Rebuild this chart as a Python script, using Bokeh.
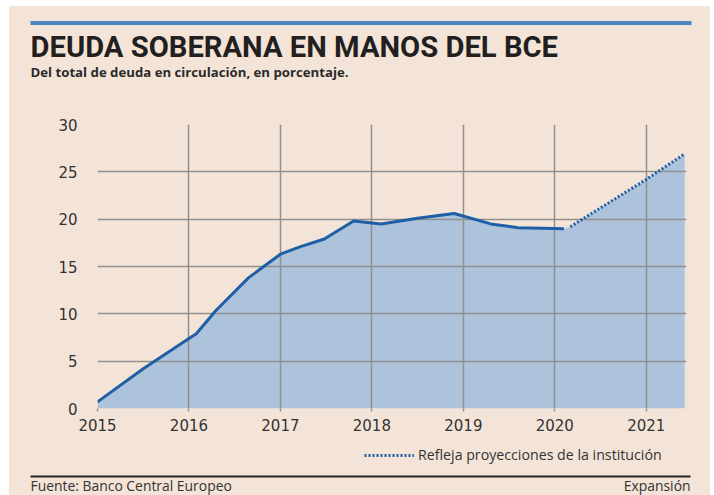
from bokeh.plotting import figure
from bokeh.models import (Legend, LegendItem, FixedTicker, Range1d, ColumnDataSource, Spacer)
from bokeh.layouts import column, row
from bokeh.core.properties import value
from bokeh.embed import file_html
from bokeh.resources import INLINE

# ---------------- data ----------------
years = [2015.0, 2015.5, 2016.0, 2016.08, 2016.3, 2016.65, 2017.0, 2017.22,
         2017.48, 2017.8, 2018.1, 2018.5, 2018.9, 2019.3, 2019.6, 2020.1]
values = [0.7, 4.2, 7.4, 7.9, 10.4, 13.8, 16.3, 17.1,
          17.9, 19.8, 19.5, 20.1, 20.6, 19.5, 19.1, 19.0]
proj_years = [2020.17, 2021.0, 2021.42]
proj_values = [19.2, 24.2, 26.9]
x_ticks = [2015, 2016, 2017, 2018, 2019, 2020, 2021]
x_tick_labels = ["2015", "2016", "2017", "2018", "2019", "2020", "2021"]
y_ticks = [0, 5, 10, 15, 20, 25, 30]

title_text = "DEUDA SOBERANA EN MANOS DEL BCE"
subtitle_text = "Del total de deuda en circulación, en porcentaje."
legend_text = "Refleja proyecciones de la institución"
source_text = "Fuente: Banco Central Europeo"
brand_text = "Expansión"

# ---------------- style ----------------
BG = "#f4e4d8"
AREA = "#adc3db"
LINE = "#1e5fa5"
RULE = "#4a86c2"
GRID = "#8f8f8f"
TXT = "#333333"
TITLE_FONT = "Roboto"
SMALL_FONT = "Open Sans"

LEFT, TOP, RIGHT = 9, 6, 710         # page extent of the peach panel
W = RIGHT - LEFT
HEAD_BOTTOM, MAIN_BOTTOM, FOOT_BOTTOM = 112, 440, 495


def panel(y0, y1):
    f = figure(width=W, height=y1 - y0, x_range=Range1d(LEFT, RIGHT),
               y_range=Range1d(y1, y0), min_border=0, frame_align=False,
               output_backend="svg", toolbar_location=None)
    f.axis.visible = False
    f.grid.visible = False
    f.background_fill_color = BG
    f.border_fill_color = BG
    f.outline_line_color = None
    return f

# ---------------- header ----------------
head = panel(TOP, HEAD_BOTTOM)
head.quad(left=[30], right=[691], top=[20.5], bottom=[24.5], fill_color=RULE, line_color=None)
head.text(x=[30], y=[46], text=[title_text], text_font=value(TITLE_FONT),
          text_font_style="bold", text_font_size="29.2px", text_color="#231f20",
          text_baseline="alphabetic")
head.text(x=[30], y=[71.3], text=[subtitle_text], text_font=value(SMALL_FONT),
          text_font_style="bold", text_font_size="13.2px", text_color="#2a2a2a",
          text_baseline="alphabetic")

# ---------------- main chart ----------------
FRAME_L, FRAME_R, FRAME_T, FRAME_B = 97, 686, 124, 408
p = figure(frame_width=FRAME_R - FRAME_L, frame_height=FRAME_B - FRAME_T,
           min_border_left=FRAME_L - LEFT, min_border_right=RIGHT - FRAME_R,
           min_border_top=FRAME_T - HEAD_BOTTOM, min_border_bottom=MAIN_BOTTOM - FRAME_B,
           x_range=Range1d(2015, 2021.44), y_range=Range1d(0, 30), frame_align=False,
           output_backend="svg", toolbar_location=None)
p.background_fill_color = BG
p.border_fill_color = BG
p.outline_line_color = None

area_src = ColumnDataSource(dict(x=years + proj_years, y=values + proj_values))
p.varea(x="x", y1=0, y2="y", source=area_src, fill_color=AREA, level="image")
p.line(years, values, line_color=LINE, line_width=3)
p.line(proj_years, proj_values, line_color=LINE, line_width=3, line_dash="2 2")

for g in (p.xgrid, p.ygrid):
    g.grid_line_color = GRID
    g.grid_line_width = 1.5
p.xaxis.ticker = FixedTicker(ticks=x_ticks)
p.yaxis.ticker = FixedTicker(ticks=y_ticks)
p.xaxis.major_label_overrides = {t: l for t, l in zip(x_ticks, x_tick_labels)}

for ax in (p.xaxis, p.yaxis):
    ax.axis_line_color = None
    ax.minor_tick_line_color = None
    ax.major_label_text_font = "DejaVu Sans"
    ax.major_label_text_font_size = "15px"
    ax.major_label_text_color = TXT
p.yaxis.major_tick_line_color = None
p.yaxis.major_tick_out = 0
p.yaxis.major_tick_in = 0
p.yaxis.major_label_standoff = 20
p.xaxis.major_tick_line_color = GRID
p.xaxis.major_tick_line_width = 1.5
p.xaxis.major_tick_out = 3
p.xaxis.major_tick_in = 0
p.xaxis.major_label_standoff = 7

# ---------------- footer ----------------
foot = panel(MAIN_BOTTOM, FOOT_BOTTOM)
foot.quad(left=[30], right=[690], top=[475], bottom=[477], fill_color="#222222", line_color=None)
foot.text(x=[30], y=[484.5], text=[source_text], text_font=value(SMALL_FONT),
          text_font_size="13.9px", text_color=TXT, text_baseline="alphabetic")
foot.text(x=[690], y=[484.5], text=[brand_text], text_font=value(SMALL_FONT),
          text_font_size="13.9px", text_color=TXT, text_align="right",
          text_baseline="alphabetic")
# legend key proxy: a one-point line draws nothing itself, only its legend sample
key = foot.line(x=[LEFT], y=[FOOT_BOTTOM], line_color=LINE, line_width=3, line_dash="2 2")
legend = Legend(items=[LegendItem(label=legend_text, renderers=[key])],
                location=(364 - LEFT, FOOT_BOTTOM - 464), padding=0, margin=0, spacing=0,
                glyph_width=50, glyph_height=14, label_standoff=4,
                label_text_font=SMALL_FONT, label_text_font_size="14.2px",
                label_text_color=TXT, background_fill_alpha=0, border_line_alpha=0)
foot.add_layout(legend, "center")

inner = column(head, p, foot, spacing=0, styles={"background-color": BG})
layout = column(Spacer(height=TOP), row(Spacer(width=LEFT), inner))

open("out.html", "w").write(file_html(layout, INLINE))
